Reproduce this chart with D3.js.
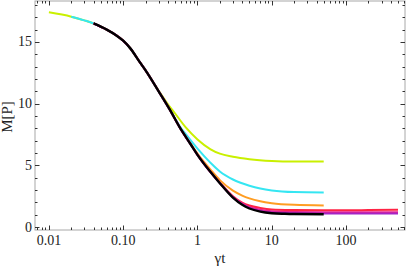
<!DOCTYPE html>
<html>
<head>
<meta charset="utf-8">
<script src="https://cdn.jsdelivr.net/npm/d3@7"></script>
<style>
  body { margin: 0; background: #fff; }
  svg { display: block; }
  text { font-family: "Liberation Serif", "DejaVu Serif", serif; fill: #222; }
</style>
</head>
<body>
<svg id="drawspace" width="407" height="270"></svg>
<script>
// series data (time gamma*t, value M[P])
const tYellow = [0.01, 0.02, 0.03, 0.04, 0.06, 0.08, 0.1, 0.124, 0.17, 0.2, 0.3, 0.4, 0.5, 0.7, 1, 1.5, 2, 3, 5, 10, 20, 50];
const mYellow = [17.4, 17.05, 16.75, 16.5, 16.0, 15.55, 15.1, 14.5, 13.3, 12.7, 11.05, 9.95, 9.2, 8.05, 7.1, 6.3, 5.95, 5.7, 5.5, 5.35, 5.3, 5.3];

const tCyan = [0.02, 0.03, 0.04, 0.06, 0.08, 0.1, 0.124, 0.17, 0.2, 0.3, 0.43, 0.58, 0.7, 1, 1.5, 2, 3, 5, 7, 10, 20, 50];
const mCyan = [17.05, 16.75, 16.5, 16.0, 15.55, 15.1, 14.5, 13.3, 12.7, 11.0, 9.45, 8.15, 7.5, 6.35, 5.2, 4.5, 3.85, 3.35, 3.12, 2.96, 2.83, 2.8];

const tOrange = [0.04, 0.06, 0.08, 0.1, 0.124, 0.17, 0.2, 0.3, 0.43, 0.58, 0.8, 1, 1.5, 2, 3, 4, 5, 7, 10, 20, 50];
const mOrange = [16.5, 16.0, 15.55, 15.1, 14.5, 13.3, 12.7, 11.0, 9.45, 8.05, 6.8, 5.95, 4.65, 3.8, 2.95, 2.55, 2.32, 2.08, 1.93, 1.8, 1.75];

const tRed = [0.04, 0.06, 0.08, 0.1, 0.124, 0.17, 0.2, 0.3, 0.43, 0.58, 0.8, 1, 1.5, 2, 3, 4, 5, 7, 10, 20, 50, 100, 200, 500];
const mRed = [16.5, 16.0, 15.55, 15.1, 14.5, 13.3, 12.7, 11.0, 9.45, 8.05, 6.75, 5.85, 4.45, 3.6, 2.5, 1.98, 1.74, 1.54, 1.42, 1.37, 1.35, 1.35, 1.37, 1.4];

const tMagenta = [0.04, 0.06, 0.08, 0.1, 0.124, 0.17, 0.2, 0.3, 0.43, 0.58, 0.8, 1, 1.5, 2, 3, 4, 5, 7, 10, 20, 50, 100, 500];
const mMagenta = [16.5, 16.0, 15.55, 15.1, 14.5, 13.3, 12.7, 11.0, 9.45, 8.05, 6.75, 5.85, 4.45, 3.57, 2.44, 1.9, 1.6, 1.4, 1.28, 1.22, 1.2, 1.2, 1.2];

const tPurple = [0.04, 0.06, 0.08, 0.1, 0.124, 0.17, 0.2, 0.3, 0.43, 0.58, 0.8, 1, 1.5, 2, 3, 4, 5, 7, 10, 20, 50, 100, 500];
const mPurple = [16.5, 16.0, 15.55, 15.1, 14.5, 13.3, 12.7, 11.0, 9.45, 8.05, 6.75, 5.85, 4.45, 3.55, 2.4, 1.85, 1.55, 1.3, 1.17, 1.12, 1.1, 1.1, 1.1];

const tBlack = [0.04, 0.06, 0.08, 0.1, 0.124, 0.17, 0.2, 0.3, 0.43, 0.58, 0.8, 1, 1.5, 2, 3, 4, 5, 7, 10, 15, 20, 50];
const mBlack = [16.5, 16.0, 15.55, 15.1, 14.5, 13.3, 12.7, 11.0, 9.45, 8.05, 6.75, 5.85, 4.45, 3.55, 2.38, 1.8, 1.5, 1.25, 1.12, 1.07, 1.05, 1.03];

const xTickLabels = ["0.01", "0.10", "1", "10", "100"];
const xTickValues = [0.01, 0.1, 1, 10, 100];
const yTickValues = [0, 5, 10, 15];

const series = [
  { t: tYellow, m: mYellow, color: "#c9f000", w: 2 },
  { t: tCyan, m: mCyan, color: "#35e6f2", w: 2 },
  { t: tOrange, m: mOrange, color: "#ff9d22", w: 2 },
  { t: tRed, m: mRed, color: "#ff2344", w: 2 },
  { t: tMagenta, m: mMagenta, color: "#e8208f", w: 2 },
  { t: tPurple, m: mPurple, color: "#a424c4", w: 2 },
  { t: tBlack, m: mBlack, color: "#000000", w: 2.4 },
];

let svg = d3.select("#drawspace");

let pLeft = 35, pRight = 405, pTop = 1, pBottom = 230;

let xScale = d3.scaleLog().domain([0.0065, 621]).range([pLeft, pRight]);
let yScale = d3.scaleLinear().domain([-0.243, 18.32]).range([pBottom, pTop]);

// curves
let line = d3.line()
  .x((d) => xScale(d[0]))
  .y((d) => yScale(d[1]))
  .curve(d3.curveMonotoneX);

let plot = svg.append("g");
series.forEach((s) => {
  plot.append("path")
    .datum(s.t.map((t, i) => [t, s.m[i]]))
    .attr("fill", "none")
    .attr("stroke", s.color)
    .attr("stroke-width", s.w)
    .attr("stroke-linejoin", "round")
    .attr("d", line);
});

// log ticks: majors at decades, minors 2..9
let xMinor = [];
for (let e = -3; e <= 2; e++) {
  for (let k = 2; k <= 9; k++) xMinor.push(k * Math.pow(10, e));
}
xMinor = xMinor.filter((v) => v > 0.0065 && v < 621);
let yMinor = d3.range(0, 19).filter((v) => v % 5 != 0);

svg.append("rect")
  .attr("x", pLeft).attr("y", pTop)
  .attr("width", pRight - pLeft).attr("height", pBottom - pTop)
  .attr("fill", "none").attr("stroke", "#a8a8a8").attr("stroke-width", 1);

let tk = svg.append("g").attr("stroke", "#333").attr("stroke-width", 1);
// bottom & top
xTickValues.concat(xMinor).forEach((v) => {
  let x = Math.round(xScale(v)) + 0.5;
  let len = xTickValues.includes(v) ? 4.5 : 2.5;
  tk.append("line").attr("x1", x).attr("x2", x).attr("y1", pBottom).attr("y2", pBottom - len);
  tk.append("line").attr("x1", x).attr("x2", x).attr("y1", pTop).attr("y2", pTop + len);
});
// left & right
yTickValues.concat(yMinor).forEach((v) => {
  let y = Math.round(yScale(v)) + 0.5;
  let len = yTickValues.includes(v) ? 4.5 : 2.5;
  tk.append("line").attr("x1", pLeft).attr("x2", pLeft + len).attr("y1", y).attr("y2", y);
  tk.append("line").attr("x1", pRight).attr("x2", pRight - len).attr("y1", y).attr("y2", y);
});

// tick labels
svg.append("g").selectAll("text")
  .data(xTickValues)
  .join("text")
  .attr("x", (d) => xScale(d))
  .attr("y", 245)
  .attr("text-anchor", "middle")
  .attr("font-size", 14)
  .text((d, i) => xTickLabels[i]);

svg.append("g").selectAll("text")
  .data(yTickValues)
  .join("text")
  .attr("x", 32)
  .attr("y", (d) => yScale(d) + 4.5)
  .attr("text-anchor", "end")
  .attr("font-size", 14)
  .text((d) => d);

// axis titles
svg.append("text")
  .attr("x", (pLeft + pRight) / 2)
  .attr("y", 263)
  .attr("text-anchor", "middle")
  .attr("font-size", 15)
  .text("γt");

svg.append("text")
  .attr("transform", "translate(12," + 117 + ") rotate(-90)")
  .attr("text-anchor", "middle")
  .attr("font-size", 15)
  .text("M[P]");
</script>
</body>
</html>
